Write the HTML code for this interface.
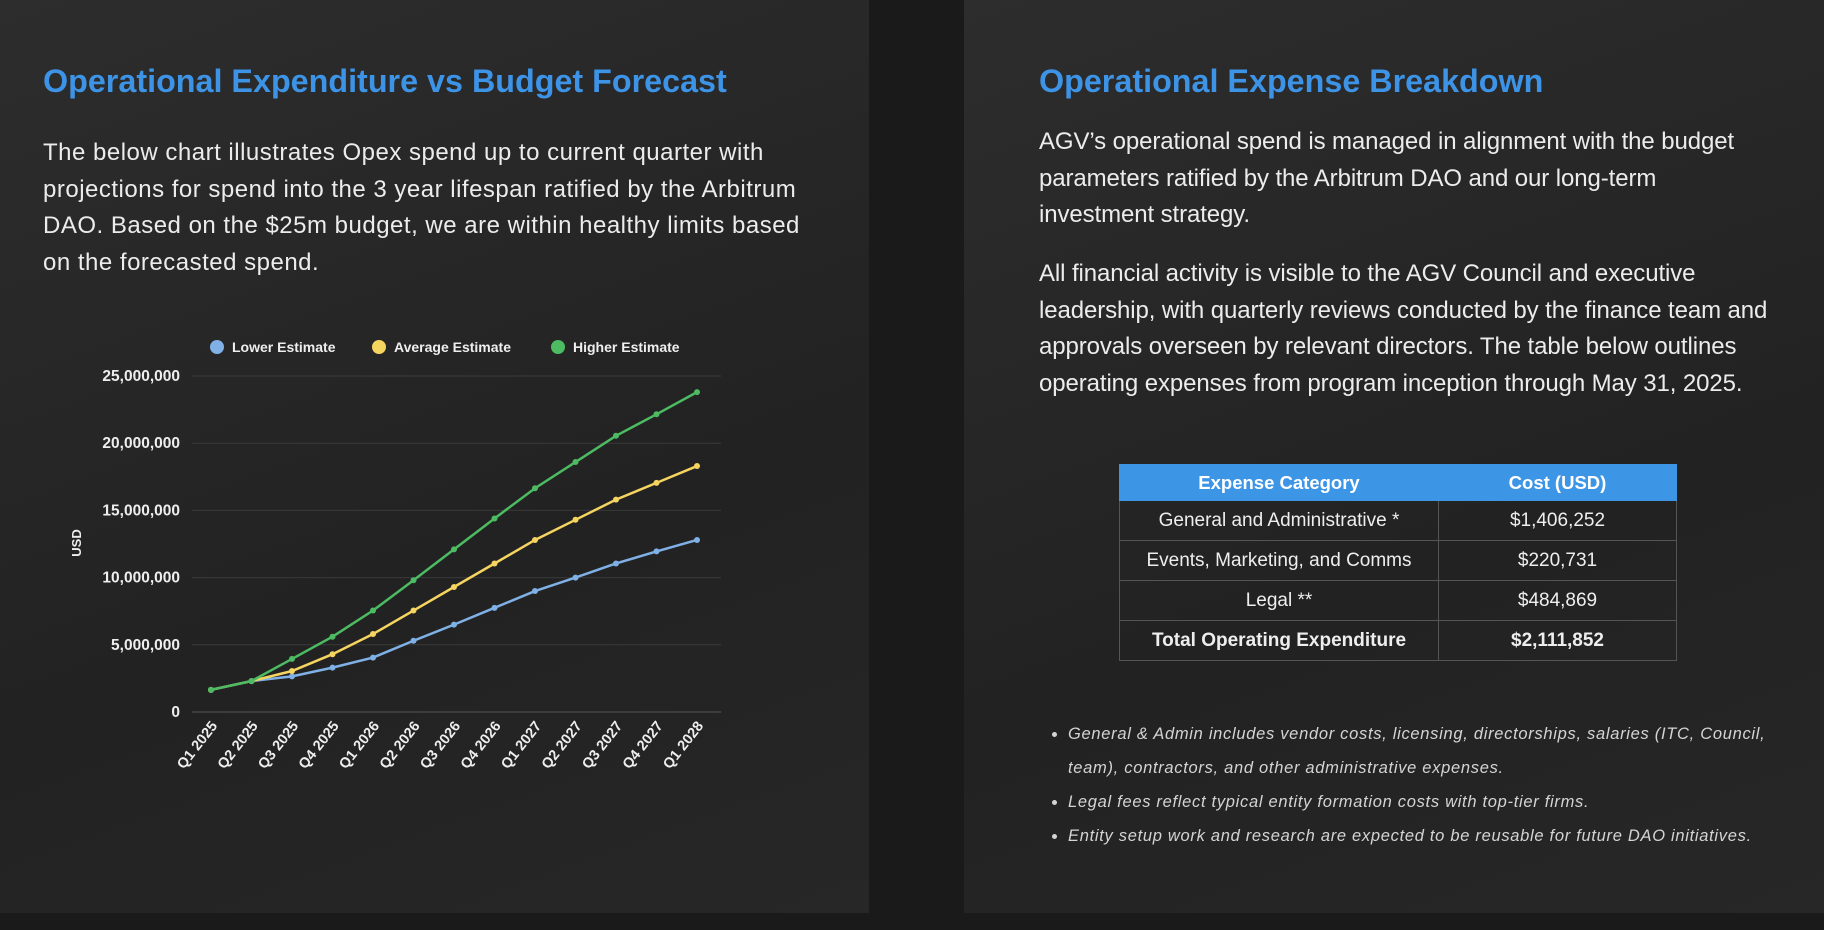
<!DOCTYPE html>
<html><head><meta charset="utf-8"><style>
body{margin:0;width:1824px;height:930px;background:#1a1a1a;font-family:"Liberation Sans",sans-serif;position:relative;overflow:hidden}
.panel{position:absolute;top:0;height:913px;background:linear-gradient(160deg,#2d2d2d,#222 60%,#272727)}
h1{position:absolute;margin:0;font-size:32.3px;color:#3d93e6;font-weight:bold;white-space:nowrap}
.p{position:absolute;color:#ececec;font-size:24px;line-height:36.5px;margin:0;white-space:nowrap;letter-spacing:-0.1px}
table{position:absolute;left:1119px;top:464px;width:558px;border-collapse:collapse;color:#eee;font-size:19px}
td,th{border:1px solid #555;text-align:center;height:39px;padding:0}
th{background:#3d95e6;border-color:#3d95e6;color:#fff;height:35px;font-size:18.5px}
ul{position:absolute;left:1050px;top:717px;margin:0;padding-left:18px;color:#d4d4d4;font-style:italic;font-size:16.5px;line-height:34px;width:800px;white-space:nowrap;letter-spacing:0.7px}
</style></head><body>
<div class="panel" style="left:0;width:869px"></div>
<div class="panel" style="left:964px;width:860px"></div>
<h1 style="left:43px;top:63px">Operational Expenditure vs Budget Forecast</h1>
<p class="p" style="left:43px;top:135px;letter-spacing:0.5px">The below chart illustrates Opex spend up to current quarter with<br>projections for spend into the 3 year lifespan ratified by the Arbitrum<br>DAO. Based on the $25m budget, we are within healthy limits based<br>on the forecasted spend.</p>
<h1 style="left:1039px;top:63px">Operational Expense Breakdown</h1>
<p class="p" style="left:1039px;top:124px">AGV’s operational spend is managed in alignment with the budget<br>parameters ratified by the Arbitrum DAO and our long-term<br>investment strategy.</p>
<p class="p" style="left:1039px;top:256px">All financial activity is visible to the AGV Council and executive<br>leadership, with quarterly reviews conducted by the finance team and<br>approvals overseen by relevant directors. The table below outlines<br>operating expenses from program inception through May 31, 2025.</p>
<table>
<tr><th style="width:318px">Expense Category</th><th>Cost (USD)</th></tr>
<tr><td>General and Administrative *</td><td>$1,406,252</td></tr>
<tr><td>Events, Marketing, and Comms</td><td>$220,731</td></tr>
<tr><td>Legal **</td><td>$484,869</td></tr>
<tr><td><b>Total Operating Expenditure</b></td><td><b>$2,111,852</b></td></tr>
</table>
<ul>
<li>General &amp; Admin includes vendor costs, licensing, directorships, salaries (ITC, Council,<br>team), contractors, and other administrative expenses.</li>
<li>Legal fees reflect typical entity formation costs with top-tier firms.</li>
<li>Entity setup work and research are expected to be reusable for future DAO initiatives.</li>
</ul>
<svg id="c" width="869" height="913" style="position:absolute;left:0;top:0" font-family="Liberation Sans, sans-serif"></svg>
<script>
const s=document.getElementById('c');let h='';
const X=i=>211+i*40.5,Y=v=>712-v*13.44;
for(let k=0;k<=5;k++){const y=Y(k*5);h+=`<line x1="192" x2="721" y1="${y}" y2="${y}" stroke="${k?'#3a3a3a':'#555'}" stroke-width="1"/>`;
h+=`<text x="180" y="${y+5}" text-anchor="end" fill="#eee" font-size="15.5" font-weight="bold">${k?(k*5).toLocaleString('en-US')+',000,000':'0'}</text>`;}
h+=`<text transform="translate(81,543) rotate(-90)" text-anchor="middle" fill="#eee" font-size="13" font-weight="bold">USD</text>`;
const labs=['Q1 2025','Q2 2025','Q3 2025','Q4 2025','Q1 2026','Q2 2026','Q3 2026','Q4 2026','Q1 2027','Q2 2027','Q3 2027','Q4 2027','Q1 2028'];
labs.forEach((l,i)=>{h+=`<text transform="translate(${X(i)+7},${726}) rotate(-52)" text-anchor="end" fill="#eee" font-size="14.5" font-weight="bold">${l}</text>`});
const D=[['#7fb0e6',[1.65,2.3,2.65,3.3,4.05,5.3,6.5,7.75,9.0,10.0,11.05,11.95,12.8]],
['#f5d460',[1.65,2.3,3.05,4.3,5.8,7.55,9.3,11.05,12.8,14.3,15.8,17.05,18.3]],
['#4cbb62',[1.65,2.3,3.95,5.6,7.55,9.8,12.1,14.4,16.65,18.6,20.55,22.15,23.8]]];
D.forEach(([c,d])=>{h+=`<polyline fill="none" stroke="${c}" stroke-width="2.5" points="${d.map((v,i)=>X(i)+','+Y(v)).join(' ')}"/>`;
d.forEach((v,i)=>h+=`<circle cx="${X(i)}" cy="${Y(v)}" r="3" fill="${c}"/>`)});
[['#7fb0e6',217,'Lower Estimate'],['#f5d460',379,'Average Estimate'],['#4cbb62',558,'Higher Estimate']].forEach(([c,x,t])=>{
h+=`<circle cx="${x}" cy="347" r="7" fill="${c}"/><text x="${x+15}" y="352" fill="#eee" font-size="14" font-weight="bold">${t}</text>`});
s.innerHTML=h;
</script>
</body></html>
